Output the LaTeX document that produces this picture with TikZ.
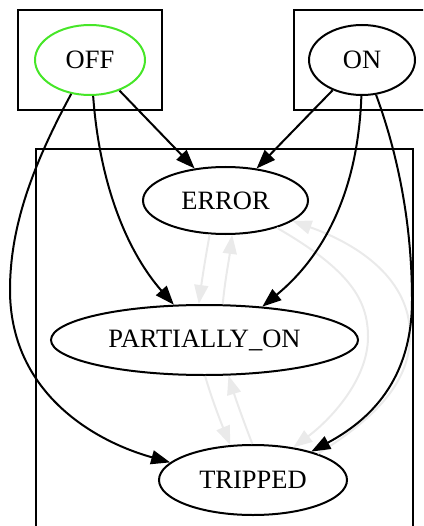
\documentclass[tikz,border=0pt]{standalone}
\usepackage{fontspec}
\setmainfont{Liberation Serif}
\usetikzlibrary{shapes.geometric,arrows.meta}
\definecolor{offgreen}{RGB}{70,230,40}
\definecolor{faint}{RGB}{234,234,234}
\begin{document}
\begin{tikzpicture}[x=1pt,y=-1pt,
  state/.style={ellipse,draw,line width=2pt,inner sep=0pt,
                font=\fontsize{26.5}{30}\selectfont},
  cluster/.style={draw,line width=2pt},
  edge/.style={line width=2pt,-{Triangle[length=19pt,width=14pt]}},
  faintedge/.style={edge,color=faint}]
\useasboundingbox (0,0) rectangle (423,526);
\clip (0,0) rectangle (423,526);

% clusters
\draw[cluster] (18,10) rectangle (162,110);
\draw[cluster] (294,10) rectangle (440,110);
\draw[cluster] (36,149) rectangle (413,560);

% states
\node[state,draw=offgreen,minimum width=110pt,minimum height=70pt] (OFF) at (90,60) {OFF};
\node[state,minimum width=106pt,minimum height=70pt] (ON) at (362,60) {ON};
\node[state,minimum width=165pt,minimum height=67pt] (ERROR) at (225.5,200.5) {ERROR};
\node[state,minimum width=307pt,minimum height=70pt] (PON) at (204.5,340) {PARTIALLY\_ON};
\node[state,minimum width=188pt,minimum height=70pt] (TRIPPED) at (253,480) {TRIPPED};

% transitions between the inner states
\draw[faintedge] (ERROR.-115.6) .. controls (205,260) and (202,280) .. (PON.99.2);
\draw[faintedge] (PON.63.4) .. controls (225,280) and (229,260) .. (ERROR.-79.3);
\draw[faintedge] (PON.-89) .. controls (212,400) and (222,425) .. (TRIPPED.123.3);
\draw[faintedge] (TRIPPED.91.6) .. controls (245,425) and (236,400) .. (PON.-56.1);
\draw[faintedge] (ERROR.-28.1) .. controls (350,270) and (368,300) .. (368,337)
  .. controls (368,380) and (330,420) .. (TRIPPED.39.4);
\draw[faintedge] (TRIPPED.22) .. controls (380,415) and (410,380) .. (410,335)
  .. controls (410,280) and (360,245) .. (ERROR.-17.9);

% transitions from OFF
\draw[edge] (OFF) -- (ERROR);
\draw[edge] (OFF.-85.2) .. controls (100,190) and (130,255) .. (PON.131);
\draw[edge] (OFF.-119.7) .. controls (30,170) and (10,230) .. (10,290)
  .. controls (10,390) and (90,440) .. (TRIPPED.168);

% transitions from ON
\draw[edge] (ON) -- (ERROR);
\draw[edge] (ON.-91.6) .. controls (358,190) and (325,255) .. (PON.30.6);
\draw[edge] (ON.-68.2) .. controls (400,160) and (412,230) .. (412,300)
  .. controls (412,380) and (370,420) .. (TRIPPED.26.2);
\end{tikzpicture}
\end{document}
